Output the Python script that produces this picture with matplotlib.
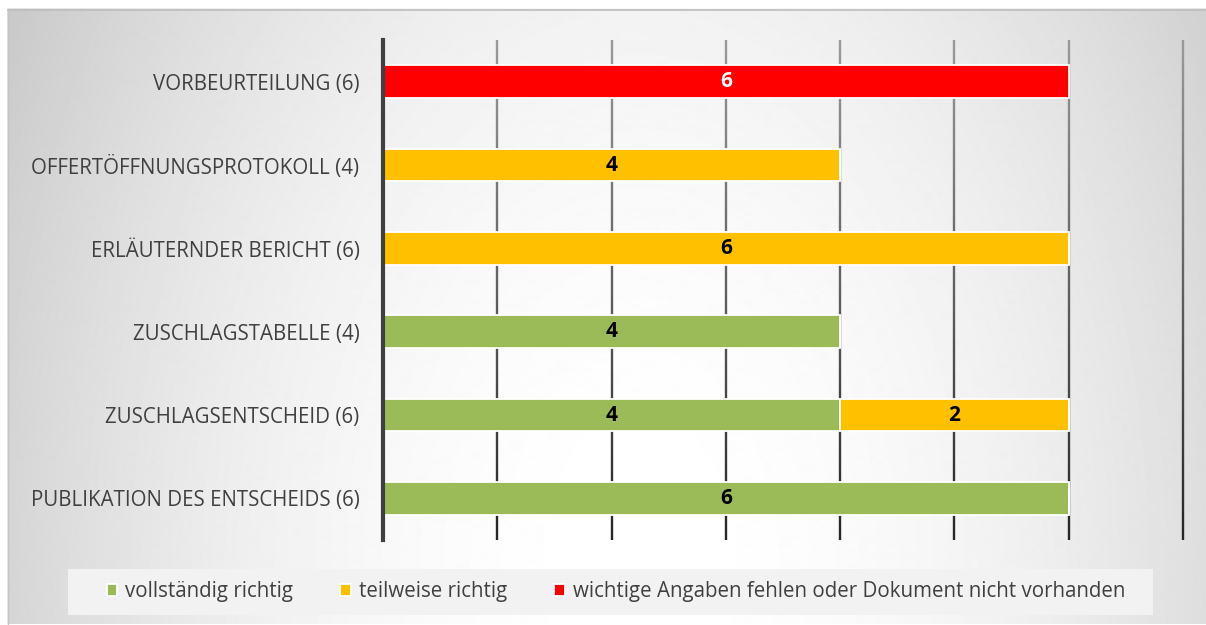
import numpy as np
import matplotlib.pyplot as plt
from matplotlib.patches import Rectangle

plt.rcParams['font.family'] = ['Open Sans', 'DejaVu Sans']

categories = ["VORBEURTEILUNG (6)", "OFFERTÖFFNUNGSPROTOKOLL (4)", "ERLÄUTERNDER BERICHT (6)",
              "ZUSCHLAGSTABELLE (4)", "ZUSCHLAGSENTSCHEID (6)", "PUBLIKATION DES ENTSCHEIDS (6)"]
vollstaendig = [0, 0, 0, 4, 4, 6]
teilweise = [0, 4, 6, 0, 2, 0]
fehlen = [6, 0, 0, 0, 0, 0]
series_names = ["vollständig richtig", "teilweise richtig",
                "wichtige Angaben fehlen oder Dokument nicht vorhanden"]
colors = ['#9BBB59', '#FFC000', '#FF0000']
label_colors = ['black', 'black', 'white']

W, H = 1206, 625
fig = plt.figure(figsize=(W / 100, H / 100), dpi=100)

# radial gradient background (light centre near the bottom, grey edges)
bg = fig.add_axes([0, 0, 1, 1], zorder=0)
yy, xx = np.mgrid[0:H, 0:W]
cx, cy = 640, 565
r2 = ((xx - cx) / 700.0) ** 2 + ((yy - cy) / 1100.0) ** 2
shade = 1.0 - 0.2 * r2
shade[:10, :] = 1.0
shade[:, :8] = 1.0
bg.imshow(shade, cmap='gray', vmin=0, vmax=1, aspect='auto', interpolation='bilinear')
bg.plot([8, W], [10, 10], color='#bdbdbd', lw=1.2)
bg.plot([8, 8], [10, H], color='#c4c4c4', lw=1.0)
# legend box
bg.add_patch(Rectangle((68, 569), 1085, 46, facecolor='#f2f2f2', edgecolor='none'))
bg.set_xlim(0, W)
bg.set_ylim(H, 0)
bg.axis('off')

ax = fig.add_axes([383 / W, 1 - 540 / H, 800 / W, 500 / H], zorder=1)
ax.patch.set_alpha(0)

y = np.arange(len(categories))
xmax = 7

# gridlines with a vertical grey gradient
nseg = 60
edges = np.linspace(-0.5, len(categories) - 0.5, nseg + 1)
grays = np.linspace(0.6, 0.15, nseg)
for gx in range(1, xmax + 1):
    ax.vlines(np.full(nseg, gx), edges[:-1], edges[1:], colors=[(g, g, g) for g in grays],
              linewidth=1.7, zorder=1, clip_on=False)

left = np.zeros(len(categories))
handles = []
for vals, name, col, lc in zip([vollstaendig, teilweise, fehlen], series_names, colors, label_colors):
    vals = np.array(vals, dtype=float)
    bars = ax.barh(y, vals, 0.39, left=left, color=col, edgecolor='white', linewidth=1.3,
                   label=name, zorder=3)
    handles.append(bars)
    for b, v in zip(bars, vals):
        if v > 0:
            ax.text(b.get_x() + b.get_width() / 2, b.get_y() + b.get_height() / 2, f"{int(v)}",
                    ha='center', va='center', fontsize=15, fontweight='bold', color=lc, zorder=4)
    left += vals

ax.set_xlim(0, xmax)
ax.set_ylim(-0.5, len(categories) - 0.5)
ax.invert_yaxis()
ax.set_xticks([])
ax.set_yticks(y)
ax.set_yticklabels(categories, fontsize=14.8, color='#404040')
ax.tick_params(axis='y', length=0, pad=17)
for s in ['top', 'right', 'bottom']:
    ax.spines[s].set_visible(False)
ax.spines['left'].set_color('#404040')
ax.spines['left'].set_linewidth(3)
ax.spines['left'].set_zorder(5)

leg = fig.legend(handles=handles, labels=series_names, loc='center',
                 bbox_to_anchor=(616 / W, 1 - 592 / H), ncol=3, frameon=False,
                 fontsize=14.8, handlelength=0.5, handleheight=0.5, handletextpad=0.4,
                 columnspacing=2.3)
for t in leg.get_texts():
    t.set_color('#404040')

fig.savefig('out.png', dpi=100)
